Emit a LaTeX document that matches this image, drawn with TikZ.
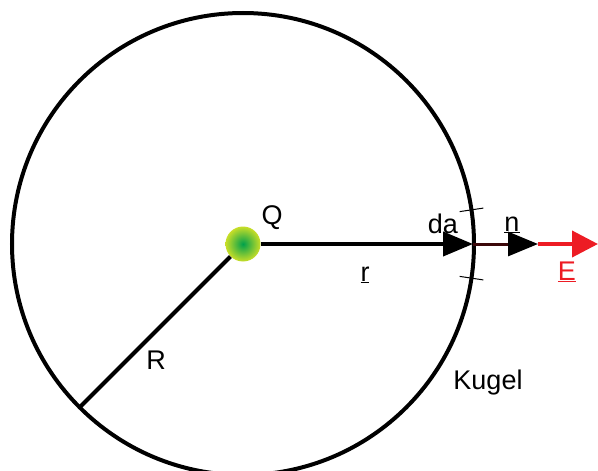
\documentclass[tikz,border=0pt]{standalone}
\usepackage{fontspec}
\setmainfont{Liberation Sans}
\usetikzlibrary{arrows.meta, positioning, calc}
\definecolor{efield}{RGB}{237,28,36}
\definecolor{chargein}{RGB}{0,160,75}
\definecolor{chargeout}{RGB}{200,222,40}

\begin{document}
\begin{tikzpicture}[x=1pt, y=-1pt, font=\fontsize{27}{32}\selectfont,
        vec/.style={line width=4pt, -{Triangle[length=30pt, width=24pt]}}]
        \useasboundingbox (0,0) rectangle (598,471);
        \coordinate (M) at (243,244);

        % Kugel
        \draw[line width=4pt] (M) circle (231pt);
        \draw[line width=1pt] (M) ++(8.5:219pt) -- ++(8.5:24pt);
        \draw[line width=1pt] (M) ++(-8.5:219pt) -- ++(-8.5:24pt);

        % Ladung
        \node[circle, minimum size=35pt, inner sep=0pt, inner color=chargein, outer color=chargeout] (Q) at (M) {};
        \coordinate (rim) at (473,244);
        \coordinate (rimR) at ($(M)+(225:231pt)$);
        \coordinate (ntip) at (538,244);
        \coordinate (etip) at (598,244);

        % Vektoren
        \draw[line width=4pt] (Q) -- (rimR);
        \draw[vec] (Q) -- (rim);
        \draw[line width=3pt, black!75!efield, -{Triangle[length=30pt, width=24pt, color=black]}] (rim) -- (ntip);
        \draw[line width=4pt, efield, -{Triangle[length=26pt, width=26pt]}] (ntip) -- (etip);

        % Beschriftung
        \node (lQ) at (272,218) {Q};
        \node (lda) at (443,224) {da};
        \node (ln) at (512,225) {\underline{n}};
        \node[text=efield] (lE) at (567,272) {\underline{E}};
        \node (lr) at (365,275) {\underline{r}};
        \node (lR) at (156,360) {R};
        \node (lK) at (488,383) {Kugel};
\end{tikzpicture}
\end{document}
